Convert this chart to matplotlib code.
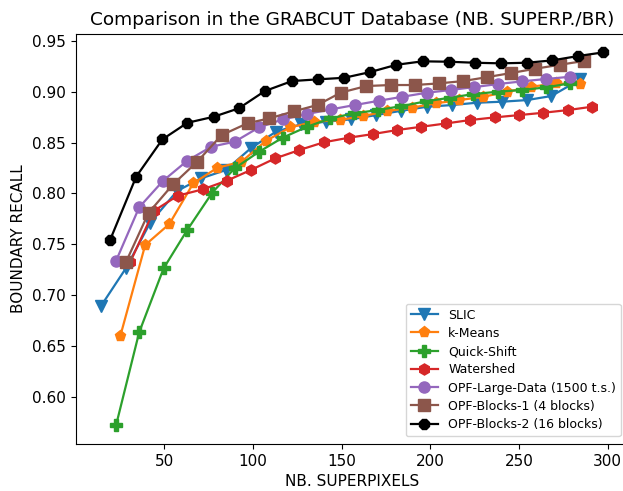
import matplotlib
matplotlib.use("Agg")
import matplotlib.pyplot as plt

# ---- data ----
slic_x = [14.1, 28.3, 42, 57.2, 70.8, 84.6, 98.7, 112.9, 127, 141.2, 155.4, 169.5, 183.7, 197.9, 212, 226.2, 240.4, 254.5, 268.3, 284.7]
slic_y = [0.689, 0.7265, 0.7713, 0.8025, 0.8149, 0.823, 0.8444, 0.8607, 0.868, 0.8705, 0.8729, 0.8771, 0.8813, 0.8852, 0.8869, 0.8892, 0.8902, 0.8918, 0.8958, 0.9122]

km_x = [25.2, 39.2, 52.8, 66.3, 79.9, 93.5, 107.1, 121, 134.6, 148.8, 162, 175.6, 189.4, 203, 216.4, 230, 243.5, 256.9, 270.9, 284.7]
km_y = [0.6602, 0.7494, 0.770, 0.810, 0.8253, 0.8312, 0.8515, 0.865, 0.8705, 0.8722, 0.8761, 0.881, 0.8843, 0.8886, 0.8918, 0.8951, 0.900, 0.9049, 0.9082, 0.9073]

qs_x = [22.8, 35.8, 49.6, 62.9, 77, 89.6, 103.4, 116.7, 130.5, 143.7, 156.9, 170.5, 183.7, 197.3, 210.9, 224.3, 237.9, 251.7, 265.3, 278.6]
qs_y = [0.5725, 0.6636, 0.7265, 0.7641, 0.8008, 0.8247, 0.841, 0.8548, 0.8656, 0.8738, 0.8788, 0.882, 0.8859, 0.8905, 0.8941, 0.8977, 0.900, 0.9017, 0.9043, 0.9082]

ws_x = [30.7, 44, 57.5, 71.7, 85.1, 98.7, 112.5, 126.1, 139.9, 154, 167.6, 181.4, 195, 209.1, 222.5, 236.4, 250.3, 263.5, 277.7, 291.3]
ws_y = [0.7324, 0.7828, 0.7978, 0.8041, 0.8125, 0.823, 0.8345, 0.8427, 0.8503, 0.8548, 0.8584, 0.8624, 0.8656, 0.8689, 0.8722, 0.8748, 0.8771, 0.8793, 0.882, 0.8853]

opfl_x = [22.8, 35.8, 49.3, 62.9, 76.5, 89.7, 103.4, 117, 130.5, 144, 157.3, 170.9, 184.3, 197.9, 211.5, 224.9, 238.4, 251.6, 265.2, 278.6]
opfl_y = [0.734, 0.7864, 0.8125, 0.8322, 0.846, 0.8509, 0.865, 0.8729, 0.8781, 0.8827, 0.8869, 0.8911, 0.8951, 0.899, 0.9017, 0.9046, 0.9076, 0.9102, 0.9125, 0.9147]

opfb1_x = [28.3, 41.1, 54.9, 68.5, 82.3, 96.9, 109.3, 122.9, 136.4, 149.6, 163.9, 177.6, 191.2, 204.8, 218.6, 232.2, 245.6, 259.2, 273, 286.6]
opfb1_y = [0.7324, 0.781, 0.809, 0.8312, 0.8574, 0.869, 0.8739, 0.8807, 0.887, 0.8992, 0.9056, 0.9066, 0.9066, 0.9082, 0.9105, 0.9144, 0.9184, 0.9226, 0.9265, 0.9302]

opfb2_x = [19.4, 34.1, 48.9, 63, 77.8, 92, 106.7, 122, 136.7, 151.4, 166, 180.9, 195.6, 210.3, 225, 239.8, 254.5, 268.7, 283.4, 297.6]
opfb2_y = [0.7543, 0.8165, 0.8532, 0.8695, 0.8754, 0.8837, 0.9007, 0.9105, 0.9122, 0.9137, 0.9193, 0.9265, 0.9299, 0.9295, 0.9285, 0.9279, 0.9285, 0.9308, 0.9351, 0.9387]

labels = ["SLIC", "k-Means", "Quick-Shift", "Watershed",
          "OPF-Large-Data (1500 t.s.)", "OPF-Blocks-1 (4 blocks)", "OPF-Blocks-2 (16 blocks)"]

series = [(slic_x, slic_y), (km_x, km_y), (qs_x, qs_y), (ws_x, ws_y),
          (opfl_x, opfl_y), (opfb1_x, opfb1_y), (opfb2_x, opfb2_y)]
colors = ["#1f77b4", "#ff7f0e", "#2ca02c", "#d62728", "#9467bd", "#8c564b", "black"]
markers = ["v", "p", "P", "h", "o", "s", "8"]

fig = plt.figure(figsize=(6.23, 4.91), dpi=100)
ax = fig.add_axes([0.1213, 0.0965, 0.8875, 0.8348])

for (x, y), lab, c, m in zip(series, labels, colors, markers):
    ax.plot(x, y, color=c, marker=m, markersize=8, linewidth=1.6, label=lab)

ax.set_title("Comparison in the GRABCUT Database (NB. SUPERP./BR)", fontsize=13.3)
ax.set_xlabel("NB. SUPERPIXELS", fontsize=11)
ax.set_ylabel("BOUNDARY RECALL", fontsize=11)
ax.set_xticks([50, 100, 150, 200, 250, 300])
ax.set_yticks([0.60, 0.65, 0.70, 0.75, 0.80, 0.85, 0.90, 0.95])
ax.tick_params(labelsize=11, length=3.8)
ax.legend(loc="lower right", fontsize=9, labelspacing=0.42, handlelength=2.2,
          borderaxespad=0.6)

fig.savefig("out.png", dpi=100)
